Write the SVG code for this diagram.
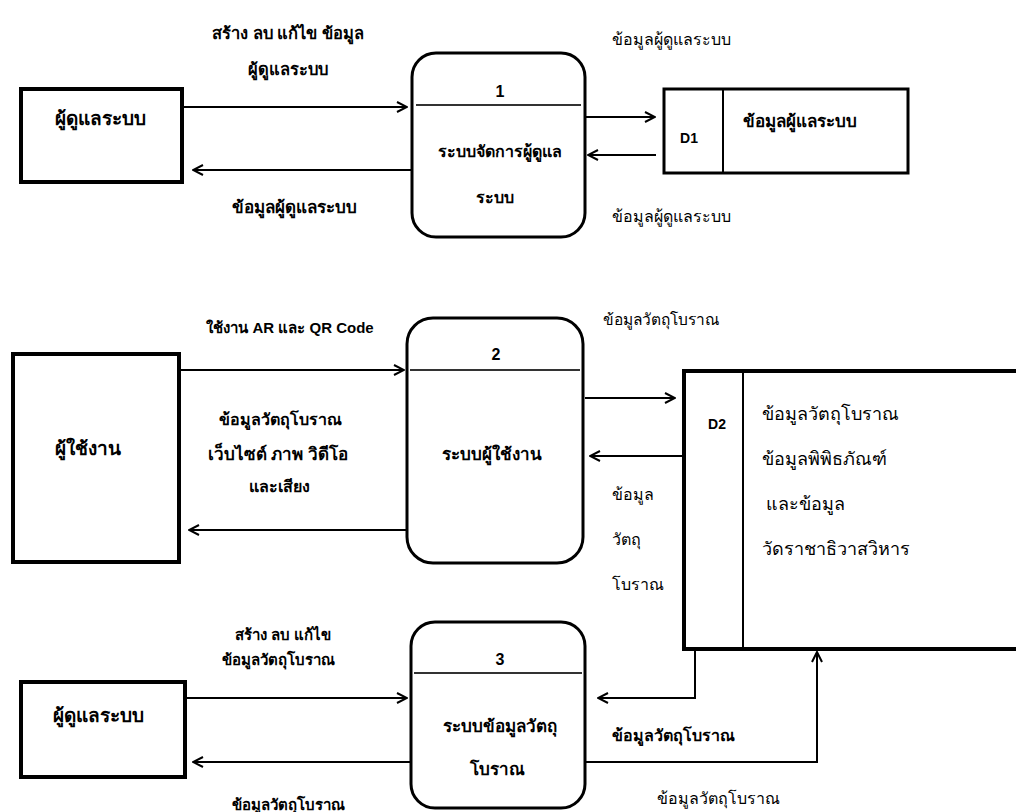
<svg xmlns="http://www.w3.org/2000/svg" width="1016" height="812" viewBox="0 0 1016 812">
<style>
.bx{fill:#fff;stroke:#000;stroke-width:4}
.pr{fill:#fff;stroke:#000;stroke-width:3}
.dv{stroke:#333;stroke-width:2;fill:none}
.ln{stroke:#000;stroke-width:2;fill:none}
.b{font-family:"Liberation Sans",sans-serif;font-weight:bold;fill:#000;text-anchor:middle}
.s{font-family:"Liberation Serif",serif;fill:#000}
</style>
<defs>
<marker id="ah" viewBox="0 0 12 12" refX="11" refY="6" markerWidth="12" markerHeight="12" markerUnits="userSpaceOnUse" orient="auto">
<path d="M1,1 L11,6 L1,11" fill="none" stroke="#000" stroke-width="2"/>
</marker>
</defs>
<rect width="1016" height="812" fill="#fff"/>
<g id="connectors">
<line class="ln" x1="183" y1="107" x2="407" y2="107" marker-end="url(#ah)"/>
<line class="ln" x1="412" y1="170" x2="193" y2="170" marker-end="url(#ah)"/>
<line class="ln" x1="586" y1="117" x2="655" y2="117" marker-end="url(#ah)"/>
<line class="ln" x1="656" y1="155" x2="588" y2="155" marker-end="url(#ah)"/>
<line class="ln" x1="180" y1="370" x2="404" y2="370" marker-end="url(#ah)"/>
<line class="ln" x1="407" y1="530" x2="189" y2="530" marker-end="url(#ah)"/>
<line class="ln" x1="585" y1="398" x2="675" y2="398" marker-end="url(#ah)"/>
<line class="ln" x1="683" y1="456" x2="590" y2="456" marker-end="url(#ah)"/>
<line class="ln" x1="185" y1="698" x2="407" y2="698" marker-end="url(#ah)"/>
<line class="ln" x1="410" y1="762" x2="193" y2="762" marker-end="url(#ah)"/>
<polyline class="ln" points="695,650 695,698 598,698" marker-end="url(#ah)"/>
<polyline class="ln" points="586,762 817,762 817,652" marker-end="url(#ah)"/>
</g>
<g id="admin1">
<rect class="bx" x="21" y="89" width="161" height="93"/>
<text class="b" x="100" y="125" style="font-size:19px">ผู้ดูแลระบบ</text>
</g>
<g id="process1">
<rect class="pr" x="412" y="53" width="173" height="184" rx="24"/>
<line class="dv" x1="416" y1="105" x2="581" y2="105"/>
<text class="b" x="500" y="97" style="font-size:16px">1</text>
<text class="b" x="500" y="157" style="font-size:16px">ระบบจัดการผู้ดูแล</text>
<text class="b" x="495" y="203" style="font-size:16px">ระบบ</text>
</g>
<g id="d1">
<rect class="pr" x="664" y="89" width="244" height="84"/>
<line class="ln" x1="723" y1="89" x2="723" y2="173"/>
<text class="b" x="689" y="143" style="font-size:14px">D1</text>
<text class="b" x="800" y="127" style="font-size:17px">ข้อมูลผู้แลระบบ</text>
</g>
<g id="user">
<rect class="bx" x="13" y="354" width="166" height="208"/>
<text class="b" x="88" y="455" style="font-size:19px">ผู้ใช้งาน</text>
</g>
<g id="process2">
<rect class="pr" x="407" y="318" width="176" height="245" rx="26"/>
<line class="dv" x1="410" y1="370" x2="580" y2="370"/>
<text class="b" x="496" y="360" style="font-size:16px">2</text>
<text class="b" x="492" y="460" style="font-size:17px">ระบบผู้ใช้งาน</text>
</g>
<g id="d2">
<polyline points="1016,371 684,371 684,649 1016,649" fill="#fff" stroke="#000" stroke-width="4"/>
<line class="ln" x1="743" y1="371" x2="743" y2="649"/>
<text class="b" x="717" y="429" style="font-size:14px">D2</text>
<text class="s" x="762" y="420" style="font-size:18px">ข้อมูลวัตถุโบราณ</text>
<text class="s" x="762" y="465" style="font-size:18px">ข้อมูลพิพิธภัณฑ์</text>
<text class="s" x="766" y="510" style="font-size:18px">และข้อมูล</text>
<text class="s" x="762" y="555" style="font-size:18px">วัดราชาธิวาสวิหาร</text>
</g>
<g id="admin2">
<rect class="bx" x="21" y="682" width="164" height="95"/>
<text class="b" x="98" y="722" style="font-size:19px">ผู้ดูแลระบบ</text>
</g>
<g id="process3">
<rect class="pr" x="411" y="622" width="174" height="186" rx="24"/>
<line class="dv" x1="414" y1="673" x2="582" y2="673"/>
<text class="b" x="500" y="665" style="font-size:16px">3</text>
<text class="b" x="500" y="732" style="font-size:17px">ระบบข้อมูลวัตถุ</text>
<text class="b" x="497" y="775" style="font-size:17px">โบราณ</text>
</g>
<g id="labels">
<text class="b" x="288" y="39" style="font-size:16.5px">สร้าง ลบ แก้ไข ข้อมูล</text>
<text class="b" x="288" y="75" style="font-size:16.5px">ผู้ดูแลระบบ</text>
<text class="b" x="294" y="213" style="font-size:17px">ข้อมูลผู้ดูแลระบบ</text>
<text class="s" x="612" y="45" style="font-size:16px">ข้อมูลผู้ดูแลระบบ</text>
<text class="s" x="612" y="222" style="font-size:16px">ข้อมูลผู้ดูแลระบบ</text>
<text class="b" x="290" y="333" style="font-size:15px">ใช้งาน AR และ QR Code</text>
<text class="b" x="280" y="425" style="font-size:16px">ข้อมูลวัตถุโบราณ</text>
<text class="b" x="278" y="460" style="font-size:17px">เว็บไซต์ ภาพ วิดีโอ</text>
<text class="b" x="279" y="492" style="font-size:16px">และเสียง</text>
<text class="s" x="603" y="325" style="font-size:15.5px">ข้อมูลวัตถุโบราณ</text>
<text class="s" x="612" y="500" style="font-size:16px">ข้อมูล</text>
<text class="s" x="612" y="545" style="font-size:16px">วัตถุ</text>
<text class="s" x="612" y="590" style="font-size:16px">โบราณ</text>
<text class="b" x="283" y="640" style="font-size:15px">สร้าง ลบ แก้ไข</text>
<text class="b" x="278" y="665" style="font-size:15px">ข้อมูลวัตถุโบราณ</text>
<text class="b" x="288" y="810" style="font-size:15px">ข้อมูลวัตถุโบราณ</text>
<text class="b" x="673" y="741" style="font-size:16px">ข้อมูลวัตถุโบราณ</text>
<text class="s" x="657" y="804" style="font-size:16px">ข้อมูลวัตถุโบราณ</text>
</g>
</svg>
